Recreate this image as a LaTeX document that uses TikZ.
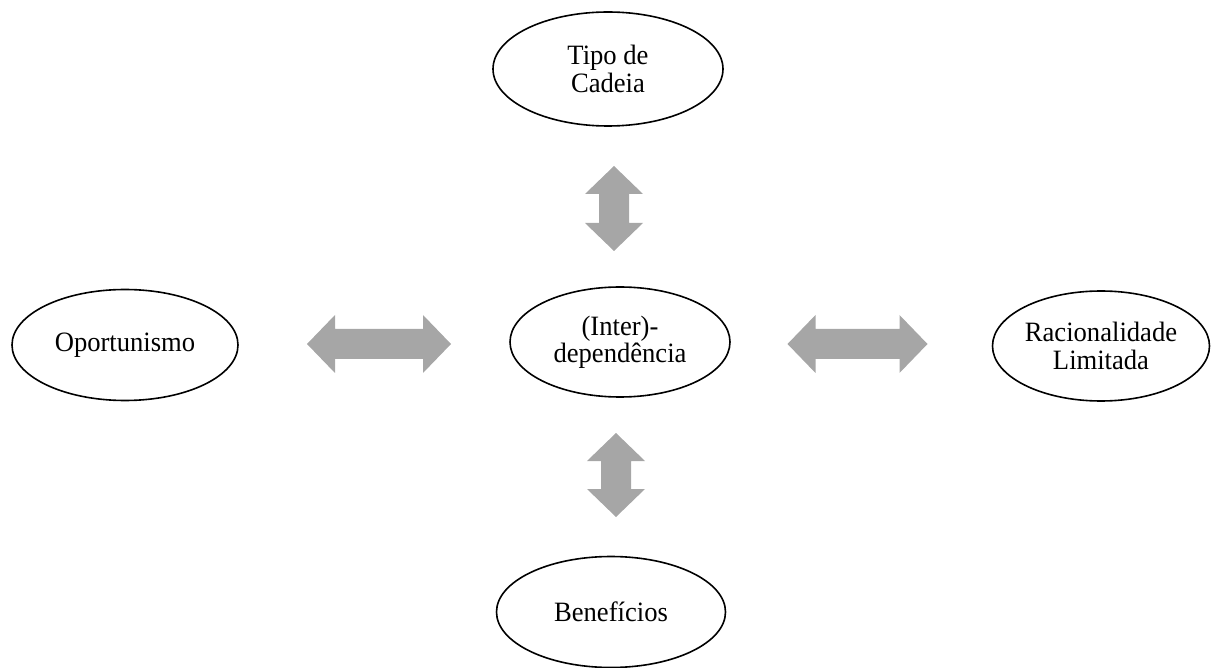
\documentclass[tikz,border=0pt]{standalone}
\usepackage{fontspec}
\setmainfont{Liberation Serif}[FakeStretch=0.95]
\usetikzlibrary{shapes.geometric}
\definecolor{arrowgray}{RGB}{166,166,166}
% block-shaped double arrow: centre x, centre y, half length, rotation
\newcommand\twoheaded[4]{%
  \fill[arrowgray, shift={(#1,#2)}, rotate=#4]
    (-#3,0) -- (-#3+28,29) -- (-#3+28,15) -- (#3-28,15) -- (#3-28,29)
    -- (#3,0) -- (#3-28,-29) -- (#3-28,-15) -- (-#3+28,-15) -- (-#3+28,-29) -- cycle;}
\tikzset{
  concept/.style={ellipse, draw=black, line width=0.8pt, align=center,
    inner sep=0pt, font=\fontsize{14}{13.6}\selectfont},
}
\begin{document}
\begin{tikzpicture}[x=0.5pt, y=-0.5pt]
  \useasboundingbox (0,0) rectangle (1211,668);
  % concepts
  \node[concept, minimum width=115pt, minimum height=57pt] (tipo) at (608,69) {Tipo de\\Cadeia};
  \node[concept, minimum width=110pt, minimum height=55pt] (inter) at (620,342) {(Inter)-\\dependência};
  \node[concept, minimum width=113pt, minimum height=55.5pt] (oport) at (125,345) {Oportunismo};
  \node[concept, minimum width=108.5pt, minimum height=55pt] (racio) at (1101,346) {Racionalidade\\Limitada};
  \node[concept, minimum width=114.5pt, minimum height=55.5pt] (benef) at (611,612) {Benefícios};
  % two-way relations
  \twoheaded{614}{208.5}{42.5}{90}
  \twoheaded{616}{475}{42}{90}
  \twoheaded{379}{344}{72}{0}
  \twoheaded{857.5}{344}{70}{0}
\end{tikzpicture}
\end{document}
